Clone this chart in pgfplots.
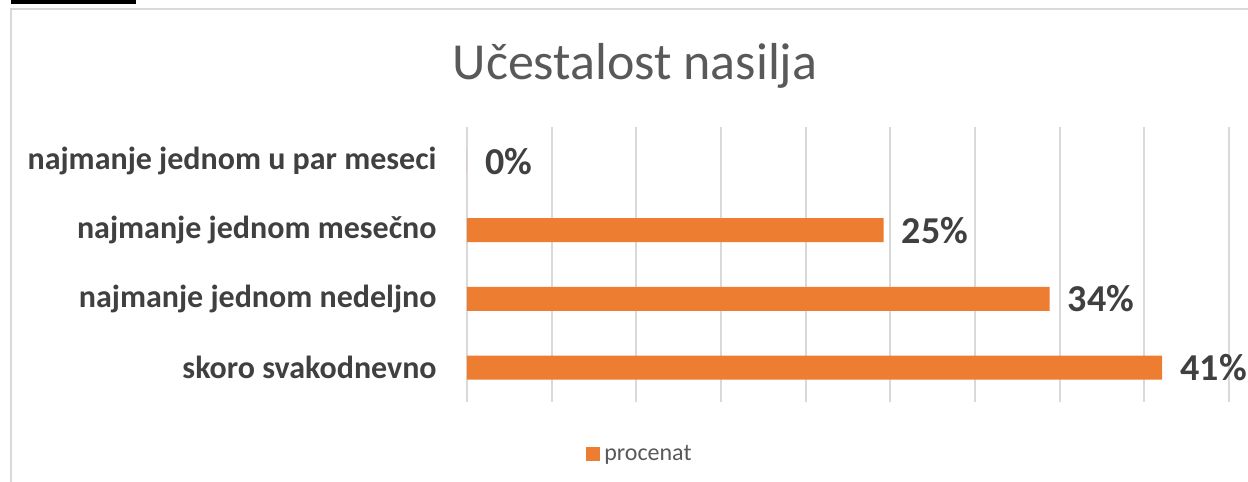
\documentclass[border=0pt]{standalone}
\usepackage{fontspec}
\setmainfont{Carlito}
\usepackage{pgfplots}
\pgfplotsset{compat=1.18}
\definecolor{xlorange}{HTML}{ED7D31}
\definecolor{xltext}{HTML}{404040}
\definecolor{xltitle}{HTML}{595959}
\definecolor{xlgrid}{HTML}{D9D9D9}

\begin{document}
\begin{tikzpicture}[x=1pt,y=1pt]
\useasboundingbox (0,0) rectangle (624,241);
% chart frame and the stray black rule at the top left
\draw[xlgrid, line width=1pt] (5.5,-2) -- (5.5,236.5) -- (630,236.5);
\fill[black] (5.5,239) rectangle (68,240.8);
\node[anchor=base, text=xltitle, font=\fontsize{26}{31}\selectfont] at (317.5,201) {Učestalost nasilja};
\begin{axis}[
  at={(233.5pt,40pt)}, anchor=south west,
  scale only axis, width=381pt, height=137.5pt,
  xbar, bar width=12pt,
  xmin=0, xmax=45, ymin=-0.5, ymax=3.5,
  xtick={0,5,...,45}, xticklabels={},
  xmajorgrids, grid style={xlgrid, line width=0.9pt},
  ytick={0,1,2,3},
  yticklabels={skoro svakodnevno, najmanje jednom nedeljno, najmanje jednom mesečno, najmanje jednom u par meseci},
  yticklabel style={font=\fontsize{16}{19}\selectfont\bfseries, text=xltext, inner sep=0pt, xshift=-15pt},
  major tick length=0pt,
  axis line style={draw=none},
  nodes near coords={\pgfmathprintnumber[fixed,precision=0,assume math mode=true]{\pgfplotspointmeta}\%},
  nodes near coords style={font=\fontsize{19}{23}\selectfont\bfseries, text=xltext, anchor=west, inner sep=0pt, xshift=9pt},
  legend style={draw=none, at={(0.156,-0.189)}, anchor=west, inner sep=0pt,
                font=\fontsize{12}{14}\selectfont, text=xltitle,
                nodes={inner sep=2pt}},
  legend image code/.code={\fill[xlorange] (0pt,-3.5pt) rectangle (7pt,3.5pt);},
]
\addplot[draw=none, fill=xlorange] coordinates {(41.05,0) (34.4,1) (24.6,2) (0,3)};
\addlegendentry{procenat}
\end{axis}
\end{tikzpicture}
\end{document}
